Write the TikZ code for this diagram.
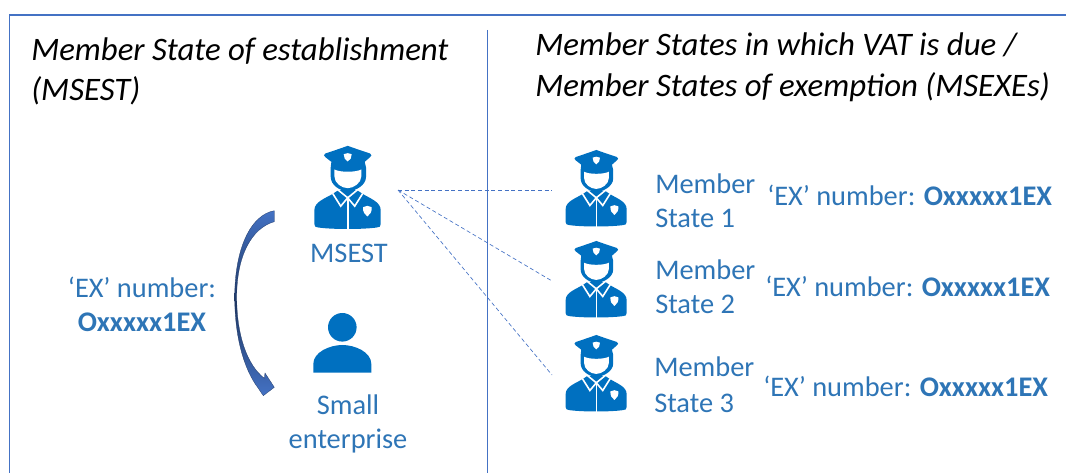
\documentclass[tikz,border=0pt]{standalone}
\usepackage{fontspec}
\setmainfont{Carlito}
\definecolor{iconblue}{HTML}{0070C0}
\definecolor{textblue}{HTML}{2E75B6}
\definecolor{ruleblue}{HTML}{4472C4}
\definecolor{arrowlight}{HTML}{4472C4}
\definecolor{arrownavy}{HTML}{1F3864}
\tikzset{
	headtext/.style={anchor=base west,inner sep=0,font=\fontsize{24.6}{29}\selectfont\itshape},
	bluetext/.style={anchor=base west,inner sep=0,color=textblue,font=\fontsize{21.3}{25}\selectfont},
	midtext/.style={bluetext,anchor=base},
	linkline/.style={color=ruleblue,line width=0.5pt,densely dashed},
	officer/.pic={
		\begin{scope}[scale=1/3,shift={(-173,-172)}]
			\fill [color=iconblue] (73,240) .. controls (73,215) and (105,205) .. (130,190) -- (145,180) -- (201,180) -- (216,190) .. controls (240,205) and (272,215) .. (272,240) -- (272,282) .. controls (272,290) and (268,291) .. (260,292) .. controls (220,298) and (125,298) .. (85,292) .. controls (77,291) and (73,290) .. (73,282) -- cycle;
			\draw [color=white,line width=1.2pt] (128,190) -- (152,228) -- (173,203) -- (194,228) -- (218,190);
			\draw [color=white,line width=1.2pt] (140,176) -- (173,203) -- (206,176);
			\draw [color=white,line width=1.2pt] (173,203) -- (173,300);
			\fill [color=white] (232,227) -- (245,231) .. controls (246,245) and (240,254) .. (232,259) .. controls (224,254) and (218,245) .. (219,231) -- cycle;
			\fill [color=iconblue] (173,47) .. controls (195,55) and (225,65) .. (240,70) .. controls (246,73) and (245,78) .. (240,81) -- (224,95) -- (228,112) -- (228,140) .. controls (228,165) and (197,183) .. (173,183) .. controls (150,183) and (122,165) .. (122,140) -- (122,112) -- (124,95) -- (106,81) .. controls (101,78) and (100,73) .. (106,70) .. controls (121,65) and (151,55) .. (173,47) -- cycle;
			\fill [color=white] (173,69) -- (185,72) .. controls (186,82) and (180,90) .. (173,94) .. controls (166,90) and (160,82) .. (161,72) -- cycle;
			\fill [color=white] (133,118) .. controls (150,127) and (196,127) .. (214,118) -- (214,138) .. controls (214,159) and (190,174) .. (173,174) .. controls (155,174) and (133,159) .. (133,138) -- cycle;
		\end{scope}
	},
}
\begin{document}
\begin{tikzpicture}[x=0.75pt,y=-0.75pt]
	\useasboundingbox (0,0) rectangle (1066,473);
	% frame and divider
	\draw [color=ruleblue,line width=1.4pt] (9.5,473) -- (9.5,15) -- (1066,15);
	\draw [color=ruleblue,line width=0.8pt] (487.5,30) -- (487.5,473);
	% headings
	\node [headtext] (estA) at (31,61) {Member State of establishment};
	\node [headtext] (estB) at (31,101) {(MSEST)};
	\node [headtext] (exeA) at (535,56) {Member States in which VAT is due /};
	\node [headtext] (exeB) at (535,97) {Member States of exemption (MSEXEs)};
	% left side
	\pic at (347.7,187.5) {officer};
	\node [midtext] (msest) at (349,263) {MSEST};
	\fill [color=iconblue] (342.3,327.3) circle (14.3);
	\fill [color=iconblue] (313.3,372.7) -- (313.3,364) .. controls (313.3,352) and (330,345) .. (342.3,345) .. controls (355,345) and (371.3,352) .. (371.3,364) -- (371.3,372.7) -- cycle;
	\node [midtext] (smallA) at (348,414) {Small};
	\node [midtext] (smallB) at (348,448) {enterprise};
	\node [midtext] (numA) at (142,298) {‘EX’ number:};
	\node [midtext,font=\fontsize{21.3}{25}\selectfont\bfseries] (numB) at (142,332) {Oxxxxx1EX};
	\shade [top color=arrowlight,bottom color=arrowlight,middle color=arrownavy,draw=arrownavy,line width=0.2pt]
		(274.3,210.7) .. controls (250,215) and (234.7,250) .. (234.7,297) .. controls (234.7,335) and (243,368) .. (258.3,388.3)
		-- (263.3,395.7) -- (274.3,387.3) -- (265,373) -- (264.3,378.3)
		.. controls (247,365) and (236.7,335) .. (236.7,297) .. controls (236.7,255) and (252,228) .. (274.3,221.7) -- cycle;
	% right side
	\pic [scale=0.92] at (596.3,188.3) {officer};
	\pic [scale=0.92] at (596.3,279.3) {officer};
	\pic [scale=0.92] at (596.3,373.3) {officer};
	\node [bluetext] (stOneA) at (655,194) {Member};
	\node [bluetext] (stOneB) at (655,228) {State 1};
	\node [bluetext] (stTwoA) at (655,280) {Member};
	\node [bluetext] (stTwoB) at (655,314) {State 2};
	\node [bluetext] (stThreeA) at (654,377) {Member};
	\node [bluetext] (stThreeB) at (654,412) {State 3};
	\node [bluetext] (exOne) at (767,206) {‘EX’ number: \textbf{Oxxxxx1EX}};
	\node [bluetext] (exTwo) at (765,297) {‘EX’ number: \textbf{Oxxxxx1EX}};
	\node [bluetext] (exThree) at (763,397) {‘EX’ number: \textbf{Oxxxxx1EX}};
	% links between the authorities
	\coordinate (from) at (398,190);
	\coordinate (toOne) at (552,190);
	\coordinate (toTwo) at (552,281);
	\coordinate (toThree) at (552,375);
	\draw [linkline] (from) -- (toOne);
	\draw [linkline] (from) -- (toTwo);
	\draw [linkline] (from) -- (toThree);
\end{tikzpicture}
\end{document}
